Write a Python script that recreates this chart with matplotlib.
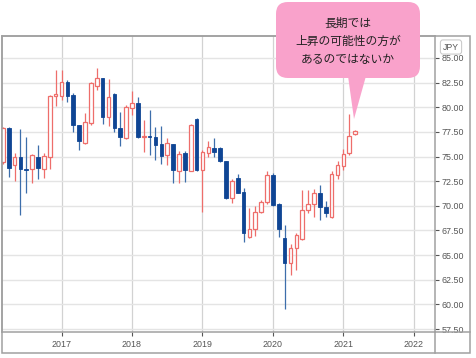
import matplotlib
matplotlib.use("Agg")
import matplotlib.pyplot as plt
from matplotlib.patches import Rectangle, FancyBboxPatch, Polygon
from matplotlib.lines import Line2D

# monthly candles, Mar 2016 .. Mar 2021
start_year, start_month = 2016, 3
opens  = [74.4, 77.9, 74.15, 75.0, 73.75, 73.7, 75.0, 73.7, 75.0, 81.1,
          81.1, 82.6, 81.25, 78.15, 76.35, 78.4, 82.2, 82.95, 79.0, 81.3, 77.9, 76.85,
          79.9, 80.4, 77.0, 77.05, 77.0, 76.25, 75.15, 76.25, 73.55, 75.35, 73.55, 78.8,
          73.65, 75.35, 75.85, 75.85, 74.5, 70.75, 72.8, 71.45, 66.8, 67.7, 69.4, 70.4,
          73.15, 70.2, 66.7, 64.15, 65.75, 66.65, 69.6, 70.2, 71.3, 69.85, 68.9, 73.15,
          74.05, 75.35, 77.25]
highs  = [78.0, 78.0, 75.35, 77.8, 76.95, 75.25, 76.2, 75.4, 81.2, 83.8,
          83.8, 82.75, 81.4, 78.2, 79.45, 82.6, 83.95, 83.0, 82.85, 81.4, 79.55, 80.2,
          81.7, 81.05, 78.7, 79.7, 78.0, 78.05, 76.9, 76.3, 75.55, 75.6, 78.3, 78.9,
          75.65, 76.6, 76.85, 76.0, 74.55, 72.7, 73.25, 71.8, 69.75, 70.0, 70.6, 73.55,
          73.35, 70.3, 68.1, 66.1, 67.2, 71.6, 71.6, 71.7, 72.15, 70.5, 73.5, 74.55,
          75.75, 79.3, 77.7]
lows   = [74.2, 72.95, 72.5, 69.05, 71.3, 72.3, 72.7, 72.8, 73.7, 80.1,
          80.75, 80.55, 77.45, 75.65, 76.3, 78.2, 81.75, 78.35, 78.1, 77.5, 76.1, 76.8,
          79.2, 76.9, 75.5, 75.15, 74.65, 74.25, 74.15, 72.35, 72.3, 72.45, 73.5, 73.5,
          69.4, 75.0, 75.0, 74.4, 70.7, 70.25, 71.3, 66.35, 66.7, 66.95, 69.25, 70.2,
          70.0, 66.8, 59.5, 63.0, 63.5, 66.5, 69.3, 68.9, 68.6, 68.85, 68.8, 72.7,
          73.65, 75.2, 77.2]
closes = [77.9, 73.8, 75.0, 73.7, 73.65, 75.15, 73.8, 75.05, 81.15, 81.3,
          82.55, 81.15, 78.15, 76.6, 78.55, 82.5, 82.95, 79.0, 81.05, 77.9, 77.0, 80.05,
          80.4, 76.95, 77.05, 77.0, 76.15, 75.05, 76.35, 73.65, 75.25, 73.65, 78.2, 73.65,
          75.5, 75.95, 75.5, 74.5, 70.75, 72.55, 71.35, 67.2, 67.7, 69.4, 70.4, 73.15,
          70.1, 67.6, 64.15, 65.7, 67.0, 69.6, 70.2, 71.3, 69.85, 69.25, 73.2, 74.15,
          75.25, 77.1, 77.6]

year_labels = ["2017", "2018", "2019", "2020", "2021", "2022"]
price_ticks = [57.5, 60.0, 62.5, 65.0, 67.5, 70.0, 72.5, 75.0, 77.5, 80.0, 82.5, 85.0]
callout_lines = ["長期では", "上昇の可能性の方が", "あるのではないか"]

W, H = 476, 358
UP = "#ee6e6b"
DOWN = "#0f4594"
DOWN_WICK = "#3d6eab"
GRID = "#e4e4e4"
BORDER = "#a0a0a0"

def fx(x):
    return x / W

def fy(y):
    return 1 - y / H

fig = plt.figure(figsize=(W / 100, H / 100), dpi=100)
ax = fig.add_axes([fx(2), fy(332), (435 - 2) / W, (332 - 36) / H])

# month index relative to Jan 2017
offset = (start_year - 2017) * 12 + (start_month - 1)
bw = 0.62
for k in range(len(opens)):
    x = k + offset
    o, h, l, c = opens[k], highs[k], lows[k], closes[k]
    lo, hi = min(o, c), max(o, c)
    body = max(hi - lo, 0.06)
    if c >= o:
        ax.vlines(x, hi, h, color=UP, lw=0.9, zorder=3)
        ax.vlines(x, l, lo, color=UP, lw=0.9, zorder=3)
        ax.add_patch(Rectangle((x - bw / 2, lo), bw, body, facecolor="white",
                               edgecolor=UP, lw=0.9, zorder=4))
    else:
        ax.vlines(x, l, h, color=DOWN_WICK, lw=0.9, zorder=3)
        ax.add_patch(Rectangle((x - bw / 2, lo), bw, body, facecolor=DOWN,
                               edgecolor=DOWN, lw=0.6, zorder=4))

ax.set_xlim(-10.14, 63.6)
ax.set_ylim(57.2, 87.23)

ax.set_xticks([12 * i for i in range(len(year_labels))])
ax.set_xticklabels(year_labels)
ax.set_yticks(price_ticks)
ax.set_yticklabels(["%.2f" % v for v in price_ticks])
ax.yaxis.tick_right()
ax.tick_params(axis="both", labelsize=6.4, colors="#555555", length=3, width=0.8)
ax.tick_params(axis="x", pad=3)
ax.tick_params(axis="y", pad=2)
for lab in ax.get_xticklabels() + ax.get_yticklabels():
    lab.set_family("Liberation Sans")

ax.grid(axis="y", color=GRID, lw=1.0, zorder=0)
ax.grid(axis="x", color="#d2d2d2", lw=0.9, zorder=0)
for s in ax.spines.values():
    s.set_color(BORDER)
    s.set_linewidth(1.1)

# outer frame
fig.add_artist(Rectangle((fx(2), fy(353)), (470 - 2) / W, (353 - 36) / H,
                         transform=fig.transFigure, fill=False,
                         edgecolor=BORDER, lw=1.1))
fig.add_artist(Line2D([fx(435), fx(435)], [fy(353), fy(332)], color=BORDER, lw=1.1))
fig.add_artist(Line2D([fx(435), fx(470)], [fy(332), fy(332)], color=BORDER, lw=1.1))

# currency box
fig.text(fx(451), fy(47), "JPY", ha="center", va="center", fontsize=6.2,
         color="#555555", family="Liberation Sans", zorder=6,
         bbox=dict(boxstyle="round,pad=0.3,rounding_size=0.3", fc="white",
                   ec="#cccccc", lw=0.8))

# callout
PINK = "#f9a2cb"
fig.add_artist(FancyBboxPatch((fx(276), fy(78)), (420 - 276) / W, (78 - 2) / H,
                              boxstyle="round,pad=0,rounding_size=0.025",
                              transform=fig.transFigure, fc=PINK, ec="none",
                              mutation_aspect=W / H))
fig.add_artist(Polygon([(fx(348), fy(76)), (fx(366), fy(76)), (fx(354), fy(119))],
                       closed=True, transform=fig.transFigure, fc=PINK, ec="none"))
for n, line in enumerate(callout_lines):
    fig.text(fx(348), fy(23 + 18.5 * n), line, ha="center", va="center",
             fontsize=8.5, color="#222222",
             family=["Noto Sans CJK JP", "DejaVu Sans"])

fig.savefig("out.png", dpi=100)
